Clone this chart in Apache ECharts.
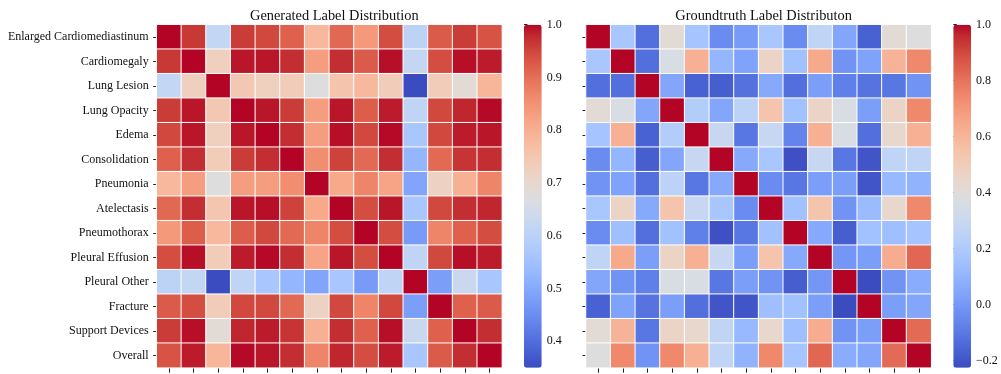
<!DOCTYPE html>
<html>
<head>
<meta charset="utf-8">
<script src="https://cdn.jsdelivr.net/npm/echarts@6/dist/echarts.min.js"></script>
<style>html,body{margin:0;padding:0;background:#fff}#c{width:1001px;height:374px}</style>
</head>
<body>
<div id="c"></div>
<script>
const labels = ["Enlarged Cardiomediastinum","Cardiomegaly","Lung Lesion","Lung Opacity","Edema","Consolidation","Pneumonia","Atelectasis","Pneumothorax","Pleural Effusion","Pleural Other","Fracture","Support Devices","Overall"];

const generated = [
 [1.000,0.964,0.617,0.961,0.948,0.919,0.782,0.909,0.838,0.942,0.604,0.925,0.961,0.935],
 [0.964,1.000,0.727,0.990,0.990,0.974,0.831,0.974,0.925,0.994,0.617,0.942,0.994,0.987],
 [0.617,0.727,1.000,0.747,0.727,0.734,0.675,0.756,0.782,0.734,0.350,0.734,0.688,0.786],
 [0.961,0.990,0.747,1.000,0.990,0.961,0.831,0.990,0.922,0.987,0.610,0.948,0.981,0.997],
 [0.948,0.990,0.727,0.990,1.000,0.974,0.831,0.994,0.948,0.997,0.565,0.948,0.987,0.990],
 [0.919,0.974,0.734,0.961,0.974,1.000,0.857,0.955,0.906,0.974,0.526,0.906,0.968,0.974],
 [0.782,0.831,0.675,0.831,0.831,0.857,1.000,0.812,0.870,0.821,0.493,0.721,0.799,0.870],
 [0.909,0.974,0.753,0.990,0.994,0.955,0.812,1.000,0.942,0.990,0.565,0.948,0.974,0.981],
 [0.838,0.922,0.782,0.922,0.948,0.906,0.870,0.942,1.000,0.942,0.474,0.870,0.919,0.942],
 [0.942,0.994,0.734,0.987,0.997,0.974,0.821,0.990,0.942,1.000,0.610,0.948,0.994,0.987],
 [0.604,0.617,0.350,0.610,0.565,0.526,0.493,0.565,0.474,0.610,1.000,0.480,0.630,0.565],
 [0.925,0.942,0.734,0.948,0.948,0.906,0.721,0.948,0.870,0.948,0.480,1.000,0.919,0.925],
 [0.961,0.994,0.688,0.981,0.987,0.968,0.799,0.974,0.919,0.994,0.630,0.919,1.000,0.974],
 [0.935,0.987,0.786,0.997,0.990,0.974,0.870,0.981,0.942,0.987,0.565,0.925,0.974,1.000]
];

const groundtruth = [
 [1.000,0.179,-0.127,0.412,0.167,-0.041,0.008,0.179,-0.041,0.265,0.045,-0.164,0.412,0.388],
 [0.179,1.000,-0.127,0.363,0.620,0.106,0.032,0.461,0.155,0.645,-0.017,0.032,0.608,0.743],
 [-0.127,-0.127,1.000,0.045,-0.164,-0.176,-0.121,0.057,-0.127,0.020,-0.078,-0.115,-0.103,-0.017],
 [0.412,0.363,0.045,1.000,0.216,0.045,0.253,0.541,0.155,0.461,0.363,0.020,0.461,0.743],
 [0.167,0.620,-0.164,0.216,1.000,0.290,-0.103,0.290,-0.066,0.620,0.363,-0.127,0.437,0.620],
 [-0.041,0.106,-0.176,0.045,0.290,1.000,0.057,0.179,-0.213,0.290,-0.103,-0.200,0.265,0.265],
 [-0.017,0.032,-0.127,0.253,-0.103,0.057,1.000,-0.041,-0.103,0.020,0.020,-0.200,0.118,0.094],
 [0.179,0.461,0.057,0.541,0.290,0.179,-0.041,1.000,0.155,0.541,-0.017,0.130,0.437,0.743],
 [-0.041,0.143,-0.127,0.155,-0.078,-0.213,-0.103,0.155,1.000,0.057,-0.176,0.155,0.143,0.167],
 [0.265,0.645,0.020,0.461,0.620,0.290,0.020,0.541,0.057,1.000,-0.005,0.020,0.633,0.829],
 [0.045,-0.017,-0.078,0.363,0.363,-0.103,0.020,-0.017,-0.176,-0.005,1.000,-0.225,-0.017,0.069],
 [-0.164,0.032,-0.115,0.020,-0.127,-0.200,-0.200,0.143,0.155,0.020,-0.225,1.000,0.020,0.045],
 [0.412,0.608,-0.103,0.461,0.437,0.265,0.118,0.437,0.143,0.633,-0.017,0.020,1.000,0.822],
 [0.388,0.743,-0.017,0.743,0.620,0.265,0.094,0.743,0.167,0.829,0.069,0.045,0.822,1.000]
];

const genRange = [0.35, 1.0];
const gtRange = [-0.225, 1.0];
const genTicks = [0.4, 0.5, 0.6, 0.7, 0.8, 0.9, 1.0];
const gtTicks = [-0.2, 0.0, 0.2, 0.4, 0.6, 0.8, 1.0];

const coolwarm = ['#3b4cc0','#445acc','#4d68d7','#5775e1','#6282ea','#6c8ef1','#779af7','#82a5fb','#8db0fe','#98b9ff','#a3c2ff','#aec9fd','#b8d0f9','#c2d5f4','#ccd9ee','#d5dbe6','#dddddd','#e5d8d1','#ecd3c5','#f1ccb8','#f5c4ad','#f7bba0','#f7b194','#f7a687','#f49a7b','#f18d6f','#ec7f63','#e57058','#de604d','#d55042','#cb3e38','#c0282f','#b40426'];

function toData(m) {
  const out = [];
  m.forEach((row, r) => row.forEach((v, c) => out.push([c, r, v])));
  return out;
}

const serif = '"Liberation Serif","DejaVu Serif",serif';
const fig = { top: 24.7, height: 343, genLeft: 156.7, gtLeft: 586, w: 345.2, cbW: 17.7, genCb: 524, gtCb: 953.3 };

function heatAxes(gi, showLabels) {
  return {
    x: { type: 'category', gridIndex: gi, data: labels, position: 'bottom',
         axisLine: { show: false }, axisLabel: { show: false, interval: 0 }, splitLine: { show: false },
         axisTick: { show: true, interval: 0, alignWithLabel: true, length: 5, lineStyle: { color: '#222', width: 1 } } },
    y: { type: 'category', gridIndex: gi, data: labels, inverse: true,
         axisLine: { show: false }, splitLine: { show: false },
         axisTick: { show: true, interval: 0, alignWithLabel: true, length: 3.5, lineStyle: { color: '#222', width: 1 } },
         axisLabel: { show: showLabels, interval: 0, fontFamily: serif, fontSize: 12, color: '#111', margin: 8 } }
  };
}
function cbAxes(gi, range, ticks, fmt) {
  return {
    x: { type: 'value', gridIndex: gi, show: false, min: 0, max: 1 },
    y: { type: 'value', gridIndex: gi, min: range[0], max: range[1], position: 'right',
         axisLine: { show: false }, splitLine: { show: false },
         axisTick: { show: true, length: 3.5, customValues: ticks, lineStyle: { color: '#222' } },
         axisLabel: { show: true, customValues: ticks, formatter: fmt, fontFamily: serif, fontSize: 12, color: '#111', margin: 5 } }
  };
}
const h0 = heatAxes(0, true), h1 = heatAxes(1, false);
const c0 = cbAxes(2, genRange, genTicks, v => v.toFixed(1));
const c1 = cbAxes(3, gtRange, gtTicks, v => (v < -1e-9 ? '\u2212' + Math.abs(v).toFixed(1) : Math.abs(v).toFixed(1)));

const option = {
  backgroundColor: '#fff',
  animation: false,
  title: [
    { text: 'Generated Label Distribution', left: fig.genLeft + fig.w / 2, top: 4, textAlign: 'center',
      textStyle: { fontFamily: serif, fontSize: 14.4, fontWeight: 'normal', color: '#111' } },
    { text: 'Groundtruth Label Distributon', left: fig.gtLeft + fig.w / 2, top: 4, textAlign: 'center',
      textStyle: { fontFamily: serif, fontSize: 14.4, fontWeight: 'normal', color: '#111' } }
  ],
  grid: [
    { left: fig.genLeft, top: fig.top, width: fig.w, height: fig.height },
    { left: fig.gtLeft, top: fig.top, width: fig.w, height: fig.height },
    { left: fig.genCb, top: fig.top, width: fig.cbW, height: fig.height },
    { left: fig.gtCb, top: fig.top, width: fig.cbW, height: fig.height }
  ],
  xAxis: [h0.x, h1.x, c0.x, c1.x],
  yAxis: [h0.y, h1.y, c0.y, c1.y],
  visualMap: [
    { type: 'continuous', seriesIndex: 0, dimension: 2, min: genRange[0], max: genRange[1],
      left: fig.genCb, top: fig.top, itemWidth: fig.cbW, itemHeight: fig.height, padding: 0,
      calculable: false, hoverLink: false, text: null, showLabel: false, inRange: { color: coolwarm } },
    { type: 'continuous', seriesIndex: 1, dimension: 2, min: gtRange[0], max: gtRange[1],
      left: fig.gtCb, top: fig.top, itemWidth: fig.cbW, itemHeight: fig.height, padding: 0,
      calculable: false, hoverLink: false, text: null, showLabel: false, inRange: { color: coolwarm } }
  ],
  series: [
    { type: 'heatmap', xAxisIndex: 0, yAxisIndex: 0, data: toData(generated),
      itemStyle: { borderColor: '#fff', borderWidth: 1 }, emphasis: { disabled: true } },
    { type: 'heatmap', xAxisIndex: 1, yAxisIndex: 1, data: toData(groundtruth),
      itemStyle: { borderColor: '#fff', borderWidth: 1 }, emphasis: { disabled: true } },
    { type: 'line', xAxisIndex: 2, yAxisIndex: 2, data: [], silent: true },
    { type: 'line', xAxisIndex: 3, yAxisIndex: 3, data: [], silent: true }
  ]
};
const chart = echarts.init(document.getElementById('c'), null, { renderer: 'canvas' });
chart.setOption(option);
</script>
</body>
</html>
